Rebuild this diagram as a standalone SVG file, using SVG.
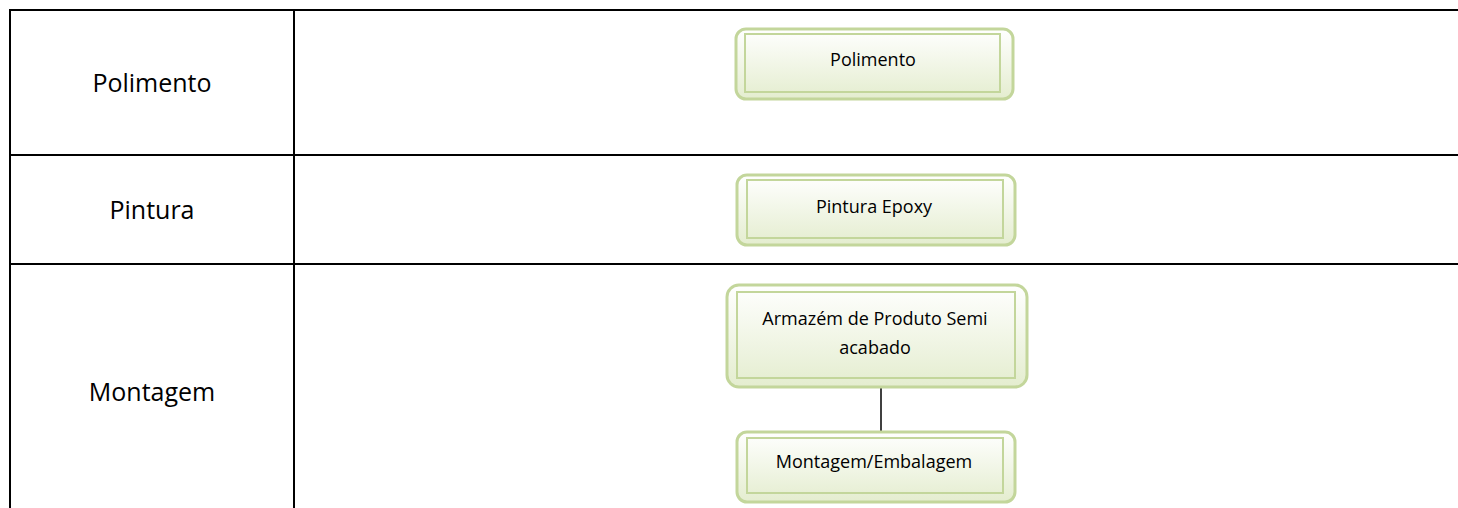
<svg xmlns="http://www.w3.org/2000/svg" width="1458" height="508" viewBox="0 0 1458 508">
  <defs>
    <linearGradient id="boxFill" x1="0" y1="0" x2="0" y2="1">
      <stop offset="0" stop-color="#ffffff"/>
      <stop offset="1" stop-color="#e4edcf"/>
    </linearGradient>
    <style>
      .grid { stroke: #000; stroke-width: 2; fill: none; }
      .lane { font-family: "Open Sans", "Liberation Sans", sans-serif; font-size: 25px; fill: #000; text-anchor: middle; }
      .outer { fill: url(#boxFill); stroke: #c3d69b; stroke-width: 3; }
      .inner { fill: none; stroke: #c3d69b; stroke-width: 2; }
      .label { font-family: "Open Sans", "Liberation Sans", sans-serif; font-size: 18px; fill: #000; text-anchor: middle; }
      .link { stroke: #000; stroke-width: 1.5; fill: none; }
    </style>
  </defs>
  <rect width="1458" height="508" fill="#fff"/>

  <!-- swimlane table -->
  <g id="lanes">
    <line class="grid" x1="10" y1="10" x2="1458" y2="10"/>
    <line class="grid" x1="10" y1="155" x2="1458" y2="155"/>
    <line class="grid" x1="10" y1="264" x2="1458" y2="264"/>
    <line class="grid" x1="10" y1="9" x2="10" y2="508"/>
    <line class="grid" x1="294" y1="9" x2="294" y2="508"/>
    <text class="lane" x="152" y="92">Polimento</text>
    <text class="lane" x="152" y="219">Pintura</text>
    <text class="lane" x="152" y="401">Montagem</text>
  </g>

  <!-- connectors -->
  <g id="connectors">
    <line class="link" x1="881" y1="387" x2="881" y2="432"/>
  </g>

  <g id="polimento">
    <rect class="outer" x="736" y="29" width="277" height="70" rx="10"/>
    <rect class="inner" x="745" y="34" width="255" height="58"/>
    <text class="label" x="873" y="66">Polimento</text>
  </g>

  <g id="pintura-epoxy">
    <rect class="outer" x="737" y="175" width="278" height="70" rx="10"/>
    <rect class="inner" x="747" y="180" width="256" height="58"/>
    <text class="label" x="874" y="213">Pintura Epoxy</text>
  </g>

  <g id="armazem">
    <rect class="outer" x="727" y="285" width="300" height="102" rx="12"/>
    <rect class="inner" x="737" y="292" width="278" height="86"/>
    <text class="label" x="875" y="325">Armazém de Produto Semi</text>
    <text class="label" x="875" y="354">acabado</text>
  </g>

  <g id="montagem-embalagem">
    <rect class="outer" x="737" y="432" width="278" height="70" rx="10"/>
    <rect class="inner" x="747" y="438" width="256" height="55"/>
    <text class="label" x="874" y="468">Montagem/Embalagem</text>
  </g>
</svg>
